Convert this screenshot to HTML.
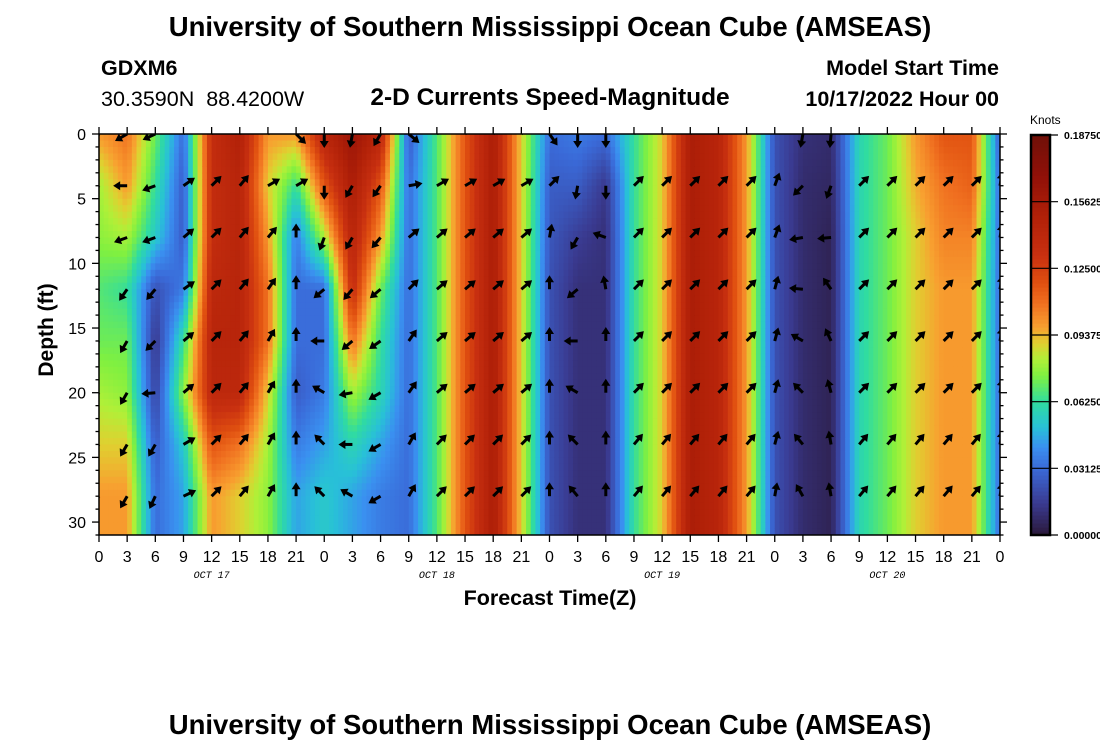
<!DOCTYPE html>
<html><head><meta charset="utf-8">
<style>
html,body{margin:0;padding:0;background:#fff;}
svg{display:block;font-family:"Liberation Sans",sans-serif;}
</style></head>
<body>
<svg id="chart" width="1100" height="750" viewBox="0 0 1100 750" xmlns="http://www.w3.org/2000/svg">
<defs><clipPath id="pc"><rect x="99" y="134" width="901" height="401"/></clipPath></defs>
<text x="550" y="36" text-anchor="middle" font-size="27.5" font-weight="bold">University of Southern Mississippi Ocean Cube (AMSEAS)</text>
<text x="101" y="75" font-size="21.5" font-weight="bold">GDXM6</text>
<text x="101" y="106" font-size="21.5">30.3590N&#160;&#160;88.4200W</text>
<text x="550" y="105" text-anchor="middle" font-size="24.5" font-weight="bold">2-D Currents Speed-Magnitude</text>
<text x="999" y="75" text-anchor="end" font-size="21.5" font-weight="bold">Model Start Time</text>
<text x="999" y="106" text-anchor="end" font-size="21.5" font-weight="bold">10/17/2022 Hour 00</text>
<g id="cells" clip-path="url(#pc)"></g>
<g id="arrows" clip-path="url(#pc)"></g>
<rect x="99" y="134" width="901" height="401" fill="none" stroke="#000" stroke-width="1.5"/>
<g id="axes"></g>
<text transform="translate(53,330) rotate(-90)" text-anchor="middle" font-size="21" font-weight="bold">Depth (ft)</text>
<text x="550" y="605" text-anchor="middle" font-size="21.5" font-weight="bold">Forecast Time(Z)</text>
<g id="cbar"></g>
<text x="1030" y="124" font-size="12">Knots</text>
<text x="550" y="734" text-anchor="middle" font-size="27.5" font-weight="bold">University of Southern Mississippi Ocean Cube (AMSEAS)</text>
</svg>
<script>
// ---- data ----
const hours = [0,3,6,9,12,15,18,21,24,27,30,33,36,39,42,45,48,51,54,57,60,63,66,69,72,75,78,81,84,87,90,93,96];
const depths = [0,4,8,12,16,20,24,28,31];
// speed in milli-knots, one row per depth
const spd0  = [99,108,72,32,135,149,99,99,144,162,144,27,68,117,153,90,32,36,32,63,90,153,144,99,23,11,9,59,72,99,117,117,27];
const spd4  = [81,99,63,27,135,144,90,63,117,153,117,32,68,117,153,90,27,27,14,63,90,153,144,99,23,9,7,59,72,95,108,113,32];
const spd8  = [77,81,54,27,135,144,99,36,81,144,99,32,68,117,153,90,25,16,11,63,90,153,144,99,23,9,5,59,72,90,104,104,32];
const spd12 = [68,63,23,36,140,144,108,32,32,135,72,32,68,117,153,90,23,11,11,63,90,153,144,99,23,9,5,59,72,90,99,99,32];
const spd16 = [72,72,14,63,144,144,108,32,32,108,63,32,68,117,153,90,23,11,11,63,90,153,144,99,23,9,5,59,72,90,99,99,32];
const spd20 = [81,77,18,77,140,140,90,27,36,81,59,32,68,117,153,90,23,11,11,63,90,153,144,99,23,9,5,59,72,90,99,99,32];
const spd24 = [90,90,27,54,117,108,81,36,45,59,45,32,68,117,153,90,23,11,11,63,90,153,144,99,23,9,5,59,72,90,99,99,32];
const spd28 = [99,99,32,45,99,90,77,45,54,45,36,32,68,117,153,90,23,11,11,63,90,153,144,99,23,9,5,59,72,90,99,99,32];
const spd31 = [99,99,32,45,99,90,77,45,54,45,36,32,68,117,153,90,23,11,11,63,90,153,144,99,23,9,5,59,72,90,99,99,32];
const speedRows = [spd0,spd4,spd8,spd12,spd16,spd20,spd24,spd28,spd31];
// arrow directions (compass degrees), columns at hours[], rows at arrowDepths
const arrowDepths = [0,4,8,12,16,20,24,28];
const dir0  = [220,240,245,45,45,40,55,135,180,190,210,130,50,50,50,50,145,180,180,45,45,45,45,45,20,190,185,45,45,45,45,45,10];
const dir4  = [220,270,250,55,45,40,60,60,180,210,215,80,60,60,60,60,45,190,180,45,45,45,45,45,20,225,200,45,45,45,45,45,10];
const dir8  = [220,250,250,50,45,40,40,0,200,210,220,50,50,50,50,50,10,210,290,45,45,45,45,45,20,260,265,45,45,45,45,45,10];
const dir12 = [220,215,220,55,45,40,35,0,230,220,230,45,50,50,50,50,0,230,350,45,45,45,45,45,15,275,325,45,45,45,45,45,10];
const dir16 = [220,210,225,50,45,40,30,0,270,230,235,35,50,50,50,50,0,270,0,45,45,45,45,45,15,300,335,45,45,45,45,45,10];
const dir20 = [220,210,265,50,45,40,30,0,300,260,240,35,50,50,50,50,0,300,0,45,45,45,45,45,15,315,345,45,45,45,45,45,10];
const dir24 = [220,210,210,60,45,40,30,0,315,270,240,30,45,45,45,45,0,315,0,40,40,40,40,40,15,320,350,40,40,40,40,40,10];
const dir28 = [220,210,205,65,45,40,30,0,315,300,240,30,45,45,45,45,0,320,0,40,40,40,40,40,10,330,350,40,40,40,40,40,10];
const dirRows = [dir0,dir4,dir8,dir12,dir16,dir20,dir24,dir28];
const cbTicks = ["0.00000","0.03125","0.06250","0.09375","0.12500","0.15625","0.18750"];
const xTickLabels = ["0","3","6","9","12","15","18","21"];
const dayLabels = ["OCT 17","OCT 18","OCT 19","OCT 20"];

// ---- scales ----
const NS="http://www.w3.org/2000/svg";
const X0=99,X1=1000,Y0=134,Y1=535, VMAX=187.5;
const xs = t => X0 + t*(X1-X0)/96;
const ys = d => Y0 + d*(Y1-Y0)/31;
const cmapStops = [[0,'#2a1838'],[0.08,'#3a3a90'],[0.167,'#3a6ad8'],[0.22,'#3a90f0'],[0.27,'#28c0d8'],[0.333,'#30dca0'],[0.40,'#80f040'],[0.44,'#b0f038'],[0.48,'#e0d030'],[0.52,'#f8a030'],[0.58,'#f07020'],[0.63,'#e05010'],[0.70,'#c83010'],[0.80,'#b02008'],[0.90,'#901008'],[1,'#701008']];
function hex(h){return [parseInt(h.slice(1,3),16),parseInt(h.slice(3,5),16),parseInt(h.slice(5,7),16)];}
function cmap(v){
  const x=Math.max(0,Math.min(1,v));
  for(let i=0;i<cmapStops.length-1;i++){
    const [a,ca]=cmapStops[i],[b,cb]=cmapStops[i+1];
    if(x<=b){const f=(x-a)/(b-a),A=hex(ca),B=hex(cb);
      return `rgb(${Math.round(A[0]+(B[0]-A[0])*f)},${Math.round(A[1]+(B[1]-A[1])*f)},${Math.round(A[2]+(B[2]-A[2])*f)})`;}
  }
  return cmapStops[cmapStops.length-1][1];
}
function el(tag,attrs,parent){const e=document.createElementNS(NS,tag);for(const k in attrs)e.setAttribute(k,attrs[k]);parent.appendChild(e);return e;}
function seg(arr,v){for(let i=0;i<arr.length-1;i++){if(v<=arr[i+1])return i;}return arr.length-2;}
function sample(t,d){
  const i=seg(hours,t), j=seg(depths,d);
  const ft=(t-hours[i])/(hours[i+1]-hours[i]), fd=(d-depths[j])/(depths[j+1]-depths[j]);
  const a=speedRows[j][i]*(1-ft)+speedRows[j][i+1]*ft;
  const b=speedRows[j+1][i]*(1-ft)+speedRows[j+1][i+1]*ft;
  return a*(1-fd)+b*fd;
}
// heatmap cells
const cells=document.getElementById('cells');
const dt=0.5, dd=0.5;
for(let t=0;t<96;t+=dt){
  for(let d=0;d<31;d+=dd){
    const v=sample(t+dt/2,d+dd/2);
    const r=el('rect',{x:xs(t).toFixed(2),y:ys(d).toFixed(2),width:(xs(t+dt)-xs(t)+0.6).toFixed(2),height:(ys(d+dd)-ys(d)+0.6).toFixed(2),fill:cmap(v/VMAX)},cells);
    
    
  }
}
// arrows
const ag=document.getElementById('arrows');
dirRows.forEach((row,ri)=>{
  row.forEach((deg,ci)=>{
    const x=xs(hours[ci]), y=ys(arrowDepths[ri]);
    const a=deg*Math.PI/180, dx=Math.sin(a), dy=-Math.cos(a), L=14;
    const hx=x+dx*L, hy=y+dy*L, px=-dy, py=dx;
    const g=el('g',{},ag);
    
    
    el('line',{x1:x,y1:y,x2:x+dx*(L-5),y2:y+dy*(L-5),stroke:'#000','stroke-width':3},g);
    el('polygon',{points:`${hx},${hy} ${hx-dx*7+px*4.5},${hy-dy*7+py*4.5} ${hx-dx*7-px*4.5},${hy-dy*7-py*4.5}`,fill:'#000'},g);
  });
});
// axes
const ax=document.getElementById('axes');
for(let t=0;t<=96;t+=3){
  const x=xs(t);
  el('line',{x1:x,y1:Y0,x2:x,y2:Y0-7,stroke:'#000','stroke-width':1.3},ax);
  el('line',{x1:x,y1:Y1,x2:x,y2:Y1+7,stroke:'#000','stroke-width':1.3},ax);
  const lb=el('text',{x:x,y:562,'text-anchor':'middle','font-size':16},ax);
  lb.textContent=xTickLabels[(t/3)%8];
  
  
}
dayLabels.forEach((s,i)=>{
  const lb=el('text',{x:xs(12+24*i),y:578,'text-anchor':'middle','font-size':10,'font-style':'italic','font-family':'Liberation Mono, monospace'},ax);
  lb.textContent=s;
  
  
});
for(let d=0;d<=31;d++){
  const y=ys(d), L=(d%5===0)?7:3.5;
  el('line',{x1:X0,y1:y,x2:X0-L,y2:y,stroke:'#000','stroke-width':1.3},ax);
  el('line',{x1:X1,y1:y,x2:X1+L,y2:y,stroke:'#000','stroke-width':1.3},ax);
  if(d%5===0){
    const lb=el('text',{x:86,y:y+6,'text-anchor':'end','font-size':16},ax);
    lb.textContent=String(d);
    
    
  }
}
// colorbar
const cb=document.getElementById('cbar');
const CX=1031,CW=19,CY0=135,CY1=535;
for(let i=0;i<100;i++){
  const y=CY1-(i+1)*(CY1-CY0)/100;
  const r=el('rect',{x:CX,y:y.toFixed(2),width:CW,height:((CY1-CY0)/100+0.6).toFixed(2),fill:cmap((i+0.5)/100)},cb);
  
  
}
el('rect',{x:CX,y:CY0,width:CW,height:CY1-CY0,fill:'none',stroke:'#000','stroke-width':2.5},cb);
cbTicks.forEach((s,i)=>{
  const y=CY1-i*(CY1-CY0)/(cbTicks.length-1);
  el('line',{x1:CX,y1:y,x2:CX+CW+8,y2:y,stroke:'#000','stroke-width':1.2},cb);
  const lb=el('text',{x:1064,y:y+4,'font-size':10.5,'font-weight':'bold'},cb);
  lb.textContent=s;
  
  
});
</script>
</body></html>
